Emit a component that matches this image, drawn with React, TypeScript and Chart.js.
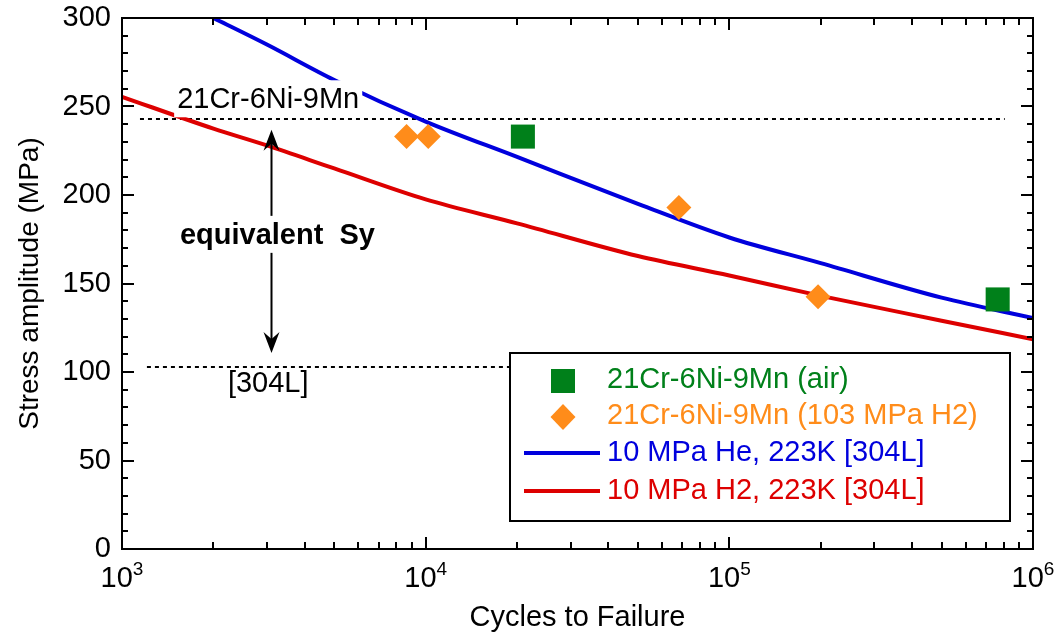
import React, { useEffect, useRef } from 'react';
import { Chart, registerables } from 'chart.js';

Chart.register(...registerables);

// ---------------- data ----------------
const heCycles = [2000, 3000, 5000, 10000, 20000, 50000, 100000, 200000, 500000, 1000000];
const heStress = [300, 285, 265, 241.5, 221.5, 195, 176, 161.5, 142, 130.5];

const h2Cycles = [1000, 2000, 3000, 5000, 10000, 20000, 50000, 100000, 200000, 500000, 1000000];
const h2Stress = [255.5, 237.5, 228, 215, 197.5, 184, 165.5, 154.5, 143, 129, 118.5];

const airCycles = [20900, 765000];
const airStress = [233, 141];

const h2TestCycles = [8650, 10200, 68200, 196000];
const h2TestStress = [233, 233, 193, 142.5];

const seriesLabels = [
  '21Cr-6Ni-9Mn (air)',
  '21Cr-6Ni-9Mn (103 MPa H2)',
  '10 MPa He, 223K [304L]',
  '10 MPa H2, 223K [304L]',
];
const seriesColors = ['#00801a', '#ff8c1a', '#0000dd', '#dd0000'];
const legendKinds = ['square', 'diamond', 'line', 'line'];

const xTickExponents = [3, 4, 5, 6];
const yMajorStep = 50;
const yMinorStep = 10;

// yield-strength reference lines (MPa)
const syValues = [243, 103];
const syStartCycles = [1146, 1208];
const syEndCycles = [807000, 807000];

const FONT = '"Liberation Sans", Arial, Helvetica, sans-serif';

// annotation texts: anchor = centre x (cycles), baseline (MPa)
const noteTexts = ['21Cr-6Ni-9Mn', '[304L]', 'equivalent  Sy'];
const noteCycles = [3030, 3030, 3250];
const noteStress = [249, 88.5, 172.4];
const noteBold = [false, false, true];
const noteBg = [true, false, true];

const arrowCycles = 3100;
const arrowTop = 236.8;
const arrowBottom = 110.8;

const decorPlugin = {
  id: 'decor',
  beforeDatasetsDraw(chart: any) {
    const { ctx, scales } = chart;
    const x = scales.x, y = scales.y;
    ctx.save();
    ctx.strokeStyle = '#000';
    ctx.lineWidth = 2;
    ctx.setLineDash([4, 4]);
    syValues.forEach((v, i) => {
      const py = Math.round(y.getPixelForValue(v));
      ctx.beginPath();
      ctx.moveTo(x.getPixelForValue(syStartCycles[i]), py);
      ctx.lineTo(x.getPixelForValue(syEndCycles[i]), py);
      ctx.stroke();
    });
    ctx.restore();
  },
  afterDatasetsDraw(chart: any) {
    const { ctx, scales } = chart;
    const x = scales.x, y = scales.y;
    ctx.save();
    // arrow
    const ax = Math.round(x.getPixelForValue(arrowCycles)) + 0.5;
    const at = y.getPixelForValue(arrowTop);
    const ab = y.getPixelForValue(arrowBottom);
    ctx.strokeStyle = '#000';
    ctx.fillStyle = '#000';
    ctx.lineWidth = 2;
    ctx.beginPath();
    ctx.moveTo(ax, at + 10);
    ctx.lineTo(ax, ab - 10);
    ctx.stroke();
    const head = (tipY: number, dir: number) => {
      ctx.beginPath();
      ctx.moveTo(ax, tipY);
      ctx.lineTo(ax - 8, tipY + dir * 21);
      ctx.lineTo(ax, tipY + dir * 14);
      ctx.lineTo(ax + 8, tipY + dir * 21);
      ctx.closePath();
      ctx.fill();
    };
    head(at, 1);
    head(ab, -1);

    // texts
    noteTexts.forEach((t, i) => {
      ctx.font = (noteBold[i] ? 'bold ' : '') + '29px ' + FONT;
      const cx = x.getPixelForValue(noteCycles[i]);
      const by = y.getPixelForValue(noteStress[i]);
      const w = ctx.measureText(t).width;
      if (noteBg[i]) {
        ctx.fillStyle = '#fff';
        ctx.fillRect(cx - w / 2 - 3, by - 28, w + 6, 37);
      }
      ctx.fillStyle = '#000';
      ctx.textAlign = 'center';
      ctx.textBaseline = 'alphabetic';
      ctx.fillText(t, cx, by);
    });

    // legend
    const L = { left: 510, top: 353, right: 1010, bottom: 521, markerX: 563, lineX0: 524, lineX1: 600, textX: 607 };
    const rowsY = [380, 416, 453, 491];
    ctx.fillStyle = '#fff';
    ctx.fillRect(L.left, L.top, L.right - L.left, L.bottom - L.top);
    ctx.strokeStyle = '#000';
    ctx.lineWidth = 2;
    ctx.strokeRect(L.left, L.top, L.right - L.left, L.bottom - L.top);
    seriesLabels.forEach((lab, i) => {
      const ry = rowsY[i];
      const col = seriesColors[i];
      ctx.fillStyle = col;
      ctx.strokeStyle = col;
      if (legendKinds[i] === 'square') {
        ctx.fillRect(L.markerX - 12, ry - 11, 24, 24);
      } else if (legendKinds[i] === 'diamond') {
        ctx.beginPath();
        ctx.moveTo(L.markerX, ry - 12);
        ctx.lineTo(L.markerX + 12.5, ry + 1);
        ctx.lineTo(L.markerX, ry + 14);
        ctx.lineTo(L.markerX - 12.5, ry + 1);
        ctx.closePath();
        ctx.fill();
      } else {
        ctx.lineWidth = 4;
        ctx.beginPath();
        ctx.moveTo(L.lineX0, ry);
        ctx.lineTo(L.lineX1, ry);
        ctx.stroke();
      }
      ctx.font = '29px ' + FONT;
      ctx.textAlign = 'left';
      ctx.textBaseline = 'middle';
      ctx.fillText(lab, L.textX, ry);
    });
    ctx.restore();
  },
  afterDraw(chart: any) {
    const { ctx, chartArea, scales } = chart;
    const x = scales.x, y = scales.y;
    const { left, right, top, bottom } = chartArea;
    ctx.save();
    ctx.strokeStyle = '#000';
    ctx.lineWidth = 2;
    ctx.strokeRect(left, top, right - left, bottom - top);
    ctx.beginPath();
    // x ticks (log decades)
    const e0 = xTickExponents[0];
    const e1 = xTickExponents[xTickExponents.length - 1];
    for (let e = e0; e <= e1; e++) {
      for (let m = 1; m <= 9; m++) {
        const v = m * Math.pow(10, e);
        if (v > Math.pow(10, e1)) break;
        const px = Math.round(x.getPixelForValue(v));
        const len = m === 1 ? 12 : 7;
        ctx.moveTo(px, bottom);
        ctx.lineTo(px, bottom - len);
        ctx.moveTo(px, top);
        ctx.lineTo(px, top + len);
      }
    }
    // y ticks
    for (let v = y.min; v <= y.max; v += yMinorStep) {
      const py = Math.round(y.getPixelForValue(v));
      const len = v % yMajorStep === 0 ? 12 : 6;
      ctx.moveTo(left, py);
      ctx.lineTo(left + len, py);
      ctx.moveTo(right, py);
      ctx.lineTo(right - len, py);
    }
    ctx.stroke();

    // x tick labels 10^n
    ctx.fillStyle = '#000';
    ctx.textBaseline = 'alphabetic';
    ctx.textAlign = 'left';
    xTickExponents.forEach((e) => {
      const px = x.getPixelForValue(Math.pow(10, e));
      ctx.font = '29px ' + FONT;
      const wb = ctx.measureText('10').width;
      ctx.font = '19px ' + FONT;
      const we = ctx.measureText(String(e)).width;
      const start = px - (wb + we) / 2;
      ctx.font = '29px ' + FONT;
      ctx.fillText('10', start, 587);
      ctx.font = '19px ' + FONT;
      ctx.fillText(String(e), start + wb, 575);
    });
    ctx.restore();
  },
};

export default function App() {
  const ref = useRef<HTMLCanvasElement | null>(null);
  useEffect(() => {
    document.body.style.margin = '0';
    const canvas = ref.current;
    if (!canvas) return;
    Chart.defaults.font.family = FONT;
    const pts = (xs: number[], ys: number[]) => xs.map((c, i) => ({ x: c, y: ys[i] }));
    const chart = new Chart(canvas, {
      type: 'scatter',
      data: {
        datasets: [
          {
            label: seriesLabels[0],
            data: pts(airCycles, airStress),
            pointStyle: 'rect',
            pointRadius: 17,
            pointBorderWidth: 0,
            backgroundColor: seriesColors[0],
            borderColor: seriesColors[0],
          },
          {
            label: seriesLabels[1],
            data: pts(h2TestCycles, h2TestStress),
            pointStyle: 'rectRot',
            pointRadius: 12.5,
            pointBorderWidth: 0,
            backgroundColor: seriesColors[1],
            borderColor: seriesColors[1],
          },
          {
            label: seriesLabels[2],
            data: pts(heCycles, heStress),
            showLine: true,
            borderColor: seriesColors[2],
            backgroundColor: seriesColors[2],
            borderWidth: 4,
            pointRadius: 0,
            cubicInterpolationMode: 'monotone',
          } as any,
          {
            label: seriesLabels[3],
            data: pts(h2Cycles, h2Stress),
            showLine: true,
            borderColor: seriesColors[3],
            backgroundColor: seriesColors[3],
            borderWidth: 4,
            pointRadius: 0,
            cubicInterpolationMode: 'monotone',
          } as any,
        ],
      },
      options: {
        animation: false,
        responsive: false,
        devicePixelRatio: 1,
        layout: { padding: { left: 0, right: 26, top: 18, bottom: 0 } },
        plugins: { legend: { display: false }, tooltip: { enabled: false } },
        scales: {
          x: {
            type: 'logarithmic',
            min: Math.pow(10, xTickExponents[0]),
            max: Math.pow(10, xTickExponents[xTickExponents.length - 1]),
            grid: { display: false, drawTicks: false },
            border: { display: false },
            ticks: { display: false },
            title: {
              display: true,
              text: 'Cycles to Failure',
              color: '#000',
              font: { size: 29, family: FONT, lineHeight: 1.0 },
              padding: { top: 0, bottom: 2 },
            },
            afterFit: (s: any) => { s.height = 85; s.paddingLeft = 0; s.paddingRight = 0; },
          },
          y: {
            type: 'linear',
            min: 0,
            max: 300,
            grid: { display: false, drawTicks: false },
            border: { display: false },
            ticks: {
              stepSize: yMinorStep,
              autoSkip: false,
              padding: 11,
              color: '#000',
              font: { size: 29, family: FONT },
              callback: (v: any) => (Number(v) % yMajorStep === 0 ? String(v) : ''),
            },
            title: {
              display: true,
              text: 'Stress amplitude (MPa)',
              color: '#000',
              font: { size: 28, family: FONT },
              padding: { top: 13, bottom: 0 },
            },
            afterFit: (s: any) => { s.width = 122; s.paddingTop = 0; s.paddingBottom = 0; },
          },
        },
      },
      plugins: [decorPlugin],
    });
    return () => chart.destroy();
  }, []);
  return (
    <div style={{ position: 'absolute', left: 0, top: 0, width: 1059, height: 634 }}>
      <canvas ref={ref} width={1059} height={634} />
    </div>
  );
}
